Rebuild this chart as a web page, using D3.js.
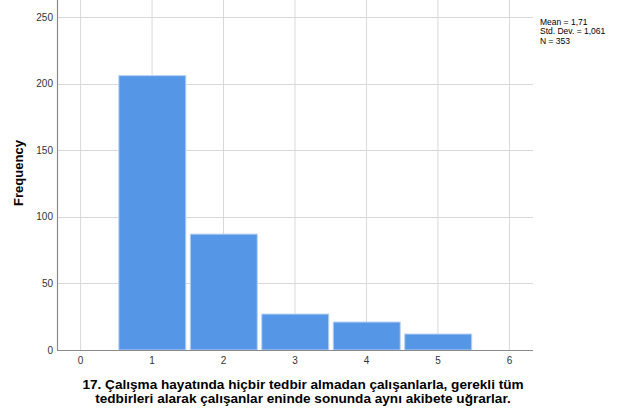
<!DOCTYPE html>
<html>
<head>
<meta charset="utf-8">
<script src="https://cdn.jsdelivr.net/npm/d3@7"></script>
<style>
  html, body { margin: 0; padding: 0; background: #fff; }
  svg { display: block; }
  text { font-family: "Liberation Sans", Arial, sans-serif; }
</style>
</head>
<body>
<div id="chart"></div>
<script>
// Data
const categories = [1, 2, 3, 4, 5];
const frequencies = [206, 87, 27, 21, 12];
const xTicks = [0, 1, 2, 3, 4, 5, 6];
const yTicks = [0, 50, 100, 150, 200, 250];
const statsLines = ["Mean = 1,71", "Std. Dev. = 1,061", "N = 353"];
const yTitle = "Frequency";
const xTitleLines = [
  "17. Çalışma hayatında hiçbir tedbir almadan çalışanlarla, gerekli tüm",
  "tedbirleri alarak çalışanlar eninde sonunda aynı akibete uğrarlar."
];

const W = 618, H = 412;
const plot = { left: 57, right: 533, top: -2, bottom: 350 };

const svg = d3.select("#chart").append("svg").attr("width", W).attr("height", H);

const x = d3.scaleLinear().domain([-0.33, 6.33]).range([plot.left, plot.right]);
const y = d3.scaleLinear().domain([0, 250]).range([plot.bottom, plot.bottom - 250 * (66.6 / 50)]);

// gridlines
const grid = svg.append("g");
grid.selectAll("line.vg").data(xTicks).enter().append("line")
  .attr("x1", d => x(d)).attr("x2", d => x(d))
  .attr("y1", plot.top).attr("y2", plot.bottom)
  .attr("stroke", "#d9d9d9").attr("stroke-width", 1);
grid.selectAll("line.hg").data(yTicks.filter(d => d > 0)).enter().append("line")
  .attr("x1", plot.left).attr("x2", plot.right)
  .attr("y1", d => Math.round(y(d)) + 0.5).attr("y2", d => Math.round(y(d)) + 0.5)
  .attr("stroke", "#d9d9d9").attr("stroke-width", 1);

// bars
svg.append("g").selectAll("rect").data(categories).enter().append("rect")
  .attr("x", (d) => x(d - 0.5) + 2.5)
  .attr("width", (d) => x(d + 0.5) - x(d - 0.5) - 4.5)
  .attr("y", (d, i) => y(frequencies[i]))
  .attr("height", (d, i) => y(0) - y(frequencies[i]))
  .attr("fill", "#5596e6")
  .attr("stroke", "#b8d2f3")
  .attr("stroke-width", 1);

// axes lines
svg.append("line").attr("x1", plot.left + 0.5).attr("x2", plot.left + 0.5)
  .attr("y1", plot.top).attr("y2", plot.bottom)
  .attr("stroke", "#8a8a8a").attr("stroke-width", 1.2);
svg.append("line").attr("x1", plot.left).attr("x2", plot.right)
  .attr("y1", plot.bottom + 0.5).attr("y2", plot.bottom + 0.5)
  .attr("stroke", "#8a8a8a").attr("stroke-width", 1.2);

// y tick labels
svg.append("g").selectAll("text").data(yTicks).enter().append("text")
  .attr("x", 53).attr("y", d => y(d) + 3.5)
  .attr("text-anchor", "end")
  .attr("font-size", 10).attr("fill", "#333")
  .text(d => d);

// x tick labels
svg.append("g").selectAll("text").data(xTicks).enter().append("text")
  .attr("x", d => x(d)).attr("y", 364)
  .attr("text-anchor", "middle")
  .attr("font-size", 10).attr("fill", "#333")
  .text(d => d);

// y title
svg.append("text")
  .attr("transform", "translate(23,173) rotate(-90)")
  .attr("text-anchor", "middle")
  .attr("font-size", 13).attr("font-weight", "bold").attr("fill", "#000")
  .text(yTitle);

// x title
svg.append("g").selectAll("text").data(xTitleLines).enter().append("text")
  .attr("x", 303).attr("y", (d, i) => 389 + i * 14)
  .attr("text-anchor", "middle")
  .attr("font-size", 13.6).attr("font-weight", "bold").attr("fill", "#000")
  .text(d => d);

// stats
svg.append("g").selectAll("text").data(statsLines).enter().append("text")
  .attr("x", 540).attr("y", (d, i) => 25 + i * 9.3)
  .attr("font-size", 8.5).attr("fill", "#000")
  .text(d => d);
</script>
</body>
</html>
